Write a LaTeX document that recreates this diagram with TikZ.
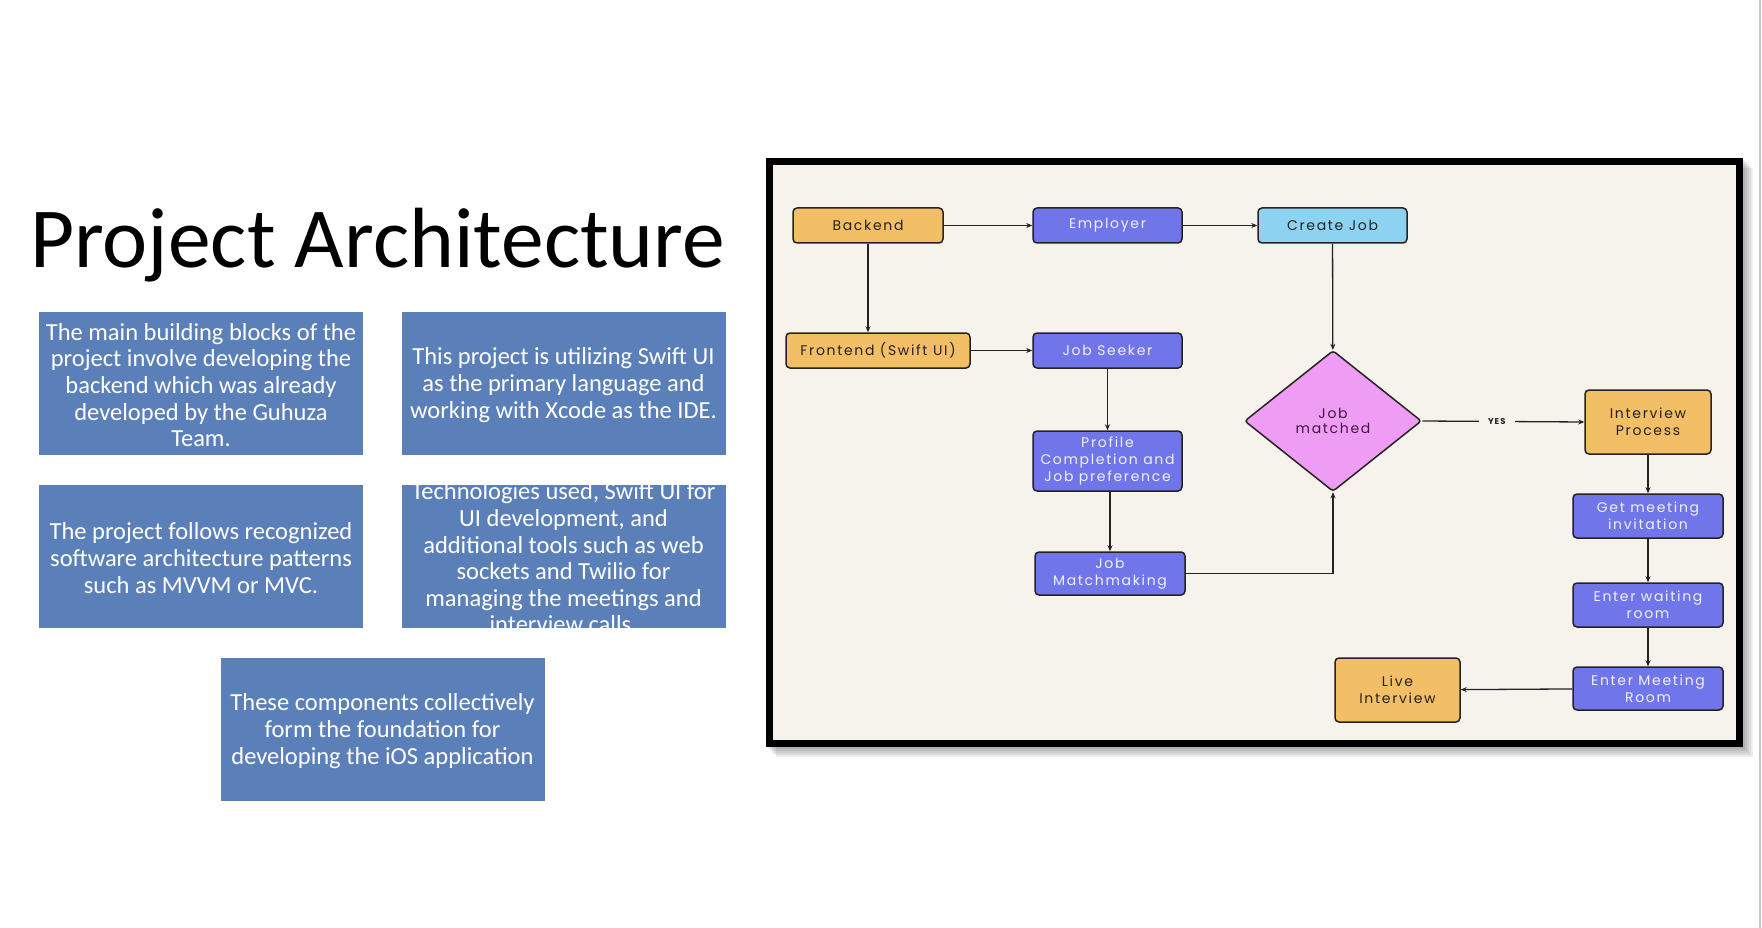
\documentclass[tikz,border=0pt]{standalone}
\usepackage{fontspec}
\setmainfont{Carlito}
\newfontfamily\flowfont{Poppins}[LetterSpace=12]
\usetikzlibrary{
  arrows.meta,
  shapes.geometric
}
\definecolor{slideblue}{RGB}{91,128,185}
\definecolor{canvas}{RGB}{246,243,237}
\definecolor{orangebox}{RGB}{242,190,102}
\definecolor{violetbox}{RGB}{112,117,233}
\definecolor{skybox}{RGB}{141,211,241}
\definecolor{pinkbox}{RGB}{239,156,245}
\definecolor{ink}{RGB}{38,34,34}
\tikzset{
  x = 1pt,
  y = -1pt,
  >={Stealth[length=6pt,width=5pt]},
  infobox/.style = {fill=slideblue, inner sep=0pt,
    minimum width=324pt, minimum height=143pt},
  infotext/.style = {text=white, align=center, inner sep=0pt, yshift=-1.5pt,
    font=\fontsize{24.5}{26.6}\selectfont},
  flowbox/.style = {draw=ink, line width=1.5pt, rounded corners=4pt,
    align=center, inner sep=0pt,
    font=\flowfont\fontsize{14}{17}\selectfont},
  warm/.style = {flowbox, fill=orangebox, text=ink},
  cool/.style = {flowbox, fill=violetbox, text=white!90!violetbox},
  sky/.style = {flowbox, fill=skybox, text=ink},
  decision/.style = {diamond, draw=ink, line width=1.5pt, rounded corners=3pt,
    fill=pinkbox, text=ink!70!violet, align=center, inner sep=0pt,
    minimum width=177pt, minimum height=141pt,
    font=\flowfont\fontsize{14}{14.5}\selectfont},
  flow/.style = {->, draw=ink, line width=1.3pt},
}

\begin{document}
\begin{tikzpicture}
  \useasboundingbox (0,0) rectangle (1762,928);
  \draw[black!22, line width=2pt] (1760,0) -- (1760,928);

  % title and text boxes
  \node[anchor=base west, inner sep=0pt, font=\fontsize{85.5}{90}\selectfont]
    (title) at (30,267) {Project Architecture};
  \node[infobox] (blocks) at (201,383.5) {};
  \node[infotext] at (blocks)
    {The main building blocks of the\\project involve developing the\\backend which was already\\developed by the Guhuza\\Team.};
  \node[infobox] (swift) at (563.5,383.5) {};
  \node[infotext] at (swift)
    {This project is utilizing Swift UI\\as the primary language and\\working with Xcode as the IDE.};
  \node[infobox] (patterns) at (201,556.5) {};
  \node[infotext] at (patterns)
    {The project follows recognized\\software architecture patterns\\such as MVVM or MVC.};
  \node[infobox] (tools) at (563.5,556.5) {};
  \node[infotext] at (tools)
    {Technologies used, Swift UI for\\UI development, and\\additional tools such as web\\sockets and Twilio for\\managing the meetings and\\interview calls.};
  \node[infobox] (summary) at (382.5,729.5) {};
  \node[infotext] at (summary)
    {These components collectively\\form the foundation for\\developing the iOS application};

  % flowchart frame
  \foreach \s in {2,4,...,10}
    \fill[black, opacity=0.07] (766+\s,158+\s) rectangle (1743+\s,747+\s);
  \draw[line width=7pt, fill=canvas] (769.5,161.5) rectangle (1739.5,743.5);

  \node[warm, minimum width=150pt, minimum height=35pt] (backend) at (868,225.5) {Backend};
  \node[cool, minimum width=149pt, minimum height=35pt] (employer) at (1107.5,225.5) {Employer};
  \node[sky, minimum width=149pt, minimum height=35pt] (createjob) at (1332.5,225.5) {Create Job};
  \node[warm, minimum width=184pt, minimum height=35pt] (frontend) at (878,350.5) {Frontend (Swift UI)};
  \node[cool, minimum width=149pt, minimum height=35pt] (seeker) at (1107.5,350.5) {Job Seeker};
  \node[cool, minimum width=149pt, minimum height=60pt] (profile) at (1107.5,461)
    {Profile\\Completion and\\Job preference};
  \node[cool, minimum width=150pt, minimum height=43pt] (matchmaking) at (1110,573.5)
    {Job\\Matchmaking};
  \node[decision] (matched) at (1333,421) {Job\\matched};
  \node[warm, minimum width=126pt, minimum height=64pt] (interview) at (1648,422)
    {Interview\\Process};
  \node[cool, minimum width=150pt, minimum height=44pt] (invitation) at (1648,516)
    {Get meeting\\invitation};
  \node[cool, minimum width=150pt, minimum height=44pt] (waiting) at (1648,605)
    {Enter waiting\\room};
  \node[cool, minimum width=150pt, minimum height=43pt] (room) at (1648,688.5)
    {Enter Meeting\\Room};
  \node[warm, minimum width=125pt, minimum height=64pt] (live) at (1397.5,690)
    {Live\\Interview};

  \draw[flow] (backend) -- (employer);
  \draw[flow] (employer) -- (createjob);
  \draw[flow] (backend) -- (backend |- frontend.north);
  \draw[flow] (frontend) -- (seeker);
  \draw[flow] (seeker) -- (profile);
  \draw[flow] (profile.south -| matchmaking) -- (matchmaking);
  \draw[flow] (matchmaking.east) -| (matched.south);
  \draw[flow] (createjob) -- (matched);
  \draw[flow] (matched.east) -- node[pos=0.46, fill=canvas, inner xsep=9pt, text=ink,
    font=\flowfont\bfseries\fontsize{8.5}{9}\selectfont] {YES} (interview.west);
  \draw[flow] (interview) -- (invitation);
  \draw[flow] (invitation) -- (waiting);
  \draw[flow] (waiting) -- (room);
  \draw[flow] (room) -- (live);
\end{tikzpicture}
\end{document}
